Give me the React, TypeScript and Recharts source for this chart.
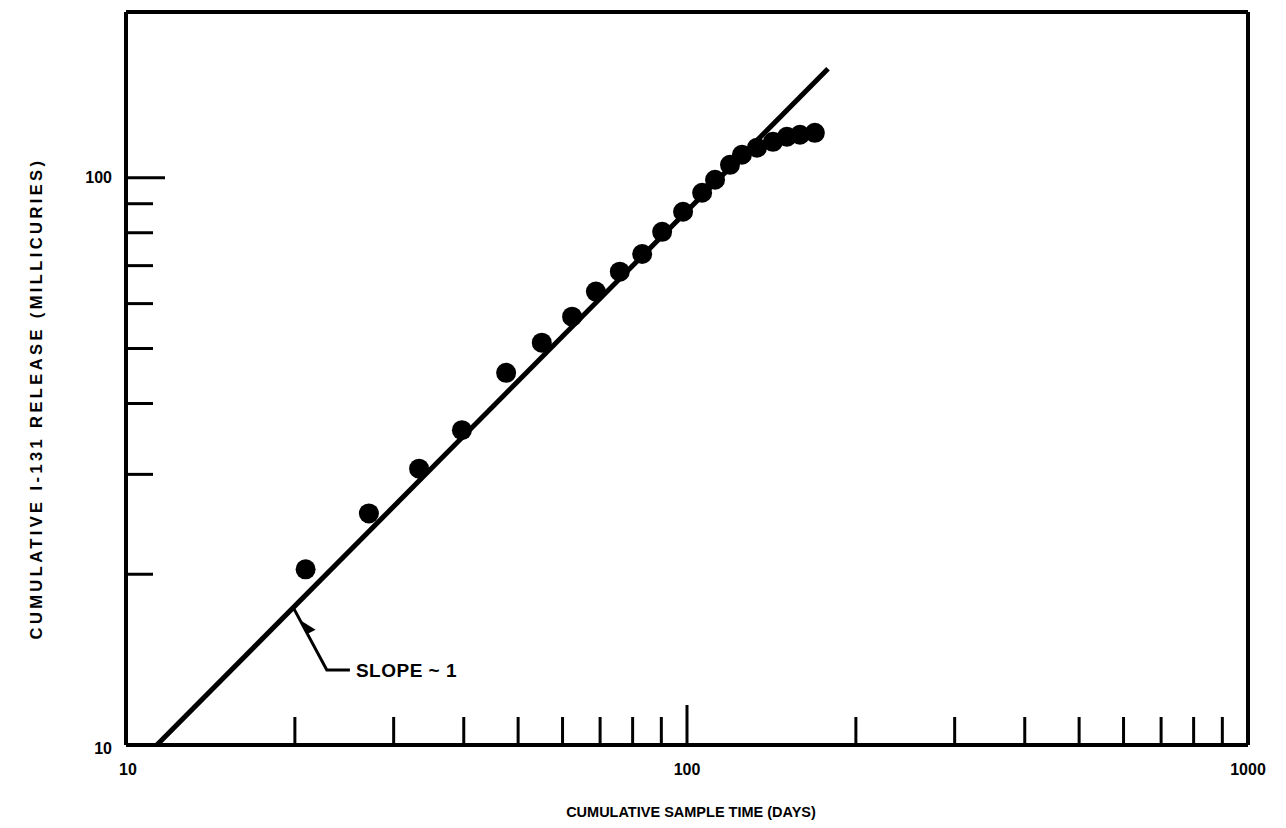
import { ScatterChart, Scatter, XAxis, YAxis, ReferenceLine, ReferenceDot, Label } from 'recharts';

// cumulative sample time (days) vs cumulative I-131 release (mCi)
const DAYS = [20.9, 27.1, 33.3, 39.7, 47.6, 55.1, 62.4, 68.8, 75.9, 83.2, 90.3, 98.4, 106.4, 112.2, 119.3, 125.3, 133.3, 142.3, 150.7, 159, 169];
const RELEASE = [20.4, 25.6, 30.7, 35.9, 45.3, 51.2, 56.9, 63.0, 68.3, 73.4, 80.3, 87.1, 94.1, 99.2, 105.4, 109.8, 113, 115.7, 118.1, 119.1, 120];

// slope ~ 1 fit line
const FIT_DAYS = [11.35, 178.4];
const FIT_RELEASE = [10, 155.6];

// leader line of the annotation, and where its barb sits
const NOTE_DAYS = [19.85, 22.8, 25.07];
const NOTE_RELEASE = [17.5, 13.56, 13.56];
const BARB = { x: 20.8, y: 16.1 };
const NOTE_TEXT = 'SLOPE ~ 1';

const X_TICKS = [10, 20, 30, 40, 50, 60, 70, 80, 90, 100, 200, 300, 400, 500, 600, 700, 800, 900, 1000];
const X_LABELS = [10, 100, 1000];
const Y_TICKS = [10, 20, 30, 40, 50, 60, 70, 80, 90, 100];
const Y_LABELS = [10, 100];

const X_TITLE = 'CUMULATIVE SAMPLE TIME (DAYS)';
const Y_TITLE = 'CUMULATIVE I-131 RELEASE (MILLICURIES)';

const FONT = '"Liberation Sans", Arial, sans-serif';

const points = DAYS.map((x, i) => ({ x, y: RELEASE[i] }));
const fit = FIT_DAYS.map((x, i) => ({ x, y: FIT_RELEASE[i] }));
const note = NOTE_DAYS.map((x, i) => ({ x, y: NOTE_RELEASE[i] }));

const XTick = (props: any) => {
  const { x, y, payload } = props;
  const v = payload.value;
  const len = v === 100 ? 40 : 28;
  return (
    <g>
      {v !== 10 && v !== 1000 && (
        <line x1={x} x2={x} y1={y} y2={y - len} stroke="#000" strokeWidth={3} />
      )}
      {X_LABELS.includes(v) && (
        <text x={x + (v === 10 ? 2 : 0)} y={y + 24} textAnchor="middle" dominantBaseline="central"
          fontFamily={FONT} fontWeight="bold" fontSize={16} fill="#000">
          {v}
        </text>
      )}
    </g>
  );
};

const YTick = (props: any) => {
  const { x, y, payload } = props;
  const v = payload.value;
  const len = v === 100 ? 39 : 27;
  return (
    <g>
      {v !== 10 && (
        <line x1={x} x2={x + len} y1={y} y2={y} stroke="#000" strokeWidth={3} />
      )}
      {Y_LABELS.includes(v) && (
        <text x={x - 14} y={y + (v === 10 ? 3 : 0)} textAnchor="end" dominantBaseline="central"
          fontFamily={FONT} fontWeight="bold" fontSize={16} fill="#000">
          {v}
        </text>
      )}
    </g>
  );
};

const Dot = (props: any) => <circle cx={props.cx} cy={props.cy} r={10} fill="#000" />;
const NoShape = () => <g />;

// half arrowhead on the right side of the leader, pointing up the leader
const Barb = (props: any) => {
  const { cx, cy } = props;
  return (
    <g transform={`translate(${cx},${cy}) rotate(-118)`}>
      <polygon points="8,0 -7,0 -7,9" fill="#000" />
    </g>
  );
};

export default function App() {
  return (
    <div style={{ position: 'absolute', left: 0, top: 0, width: 1286, height: 828, background: '#fff' }}>
      <ScatterChart width={1286} height={828} margin={{ top: 12, right: 38, bottom: 8, left: 0 }}>
        <XAxis
          dataKey="x"
          type="number"
          scale="log"
          domain={[10, 1000]}
          allowDataOverflow
          ticks={X_TICKS}
          interval={0}
          tickSize={0}
          tickMargin={0}
          tickLine={false}
          tick={XTick}
          axisLine={{ stroke: '#000', strokeWidth: 4 }}
          height={75}
        >
          <Label
            content={({ viewBox }: any) => (
              <text x={viewBox.x + viewBox.width / 2 + 4} y={viewBox.y + 67} textAnchor="middle" dominantBaseline="central"
                fontFamily={FONT} fontWeight="bold" fontSize={14.5} fill="#000">
                {X_TITLE}
              </text>
            )}
          />
        </XAxis>
        <YAxis
          dataKey="y"
          type="number"
          scale="log"
          domain={[10, 196]}
          allowDataOverflow
          ticks={Y_TICKS}
          interval={0}
          tickSize={0}
          tickMargin={0}
          tickLine={false}
          tick={YTick}
          axisLine={{ stroke: '#000', strokeWidth: 4 }}
          width={126}
        >
          <Label
            content={({ viewBox }: any) => {
              const cx = viewBox.x + 36;
              const cy = viewBox.y + viewBox.height / 2 + 20;
              return (
                <text x={cx} y={cy} transform={`rotate(-90 ${cx} ${cy})`} textAnchor="middle" dominantBaseline="central"
                  fontFamily={FONT} fontWeight="bold" fontSize={16.5} letterSpacing={3.4} fill="#000">
                  {Y_TITLE}
                </text>
              );
            }}
          />
        </YAxis>
        <ReferenceLine y={196} stroke="#000" strokeWidth={4} />
        <ReferenceLine x={1000} stroke="#000" strokeWidth={4} />
        <Scatter data={fit} line={{ stroke: '#000', strokeWidth: 5 }} shape={NoShape} isAnimationActive={false} />
        <Scatter data={note} line={{ stroke: '#000', strokeWidth: 3 }} shape={NoShape} isAnimationActive={false} />
        <Scatter data={points} shape={Dot} isAnimationActive={false} />
        <ReferenceDot x={BARB.x} y={BARB.y} r={1} shape={Barb} />
        <ReferenceDot
          x={NOTE_DAYS[2]}
          y={NOTE_RELEASE[2]}
          r={1}
          shape={NoShape}
          label={{ value: NOTE_TEXT, position: 'right', offset: 5, fontFamily: FONT, fontWeight: 'bold', fontSize: 19, letterSpacing: 0.5, fill: '#000' }}
        />
      </ScatterChart>
    </div>
  );
}
